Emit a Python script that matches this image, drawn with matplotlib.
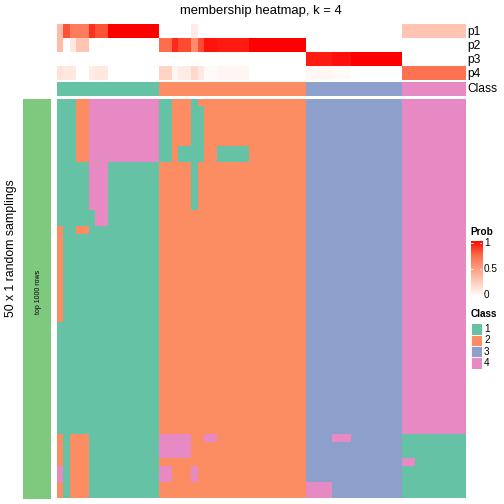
import numpy as np
import matplotlib.pyplot as plt
from matplotlib.colors import ListedColormap, LinearSegmentedColormap

plt.rcParams['font.family'] = ['Liberation Sans', 'DejaVu Sans']

W = H = 504

class_colors = ['#66C2A5', '#FC8D62', '#8DA0CB', '#E78AC3']
prob_colors = ['#FFFFFF', '#FFCFBE', '#FF9E81', '#FF6846', '#FF0000']
bar_color = '#7FC97F'

# column annotation (64 samples)
col_class = "1" * 16 + "2" * 23 + "3" * 15 + "4" * 10

p1 = [0.35, 0.80, 0.65, 0.65, 0.65, 0.88, 0.80, 0.80, 1, 1, 1, 1, 1, 1, 1, 1,
      0, 0, 0, 0, 0, 0.10, 0, 0, 0, 0, 0, 0, 0, 0, 0, 0, 0, 0, 0, 0, 0, 0, 0,
      0, 0, 0, 0, 0, 0, 0, 0, 0, 0, 0, 0, 0, 0, 0,
      0.30, 0.30, 0.30, 0.30, 0.30, 0.30, 0.30, 0.30, 0.30, 0.30]
p2 = [0.35, 0, 0.12, 0.30, 0.30, 0, 0, 0, 0, 0, 0, 0, 0, 0, 0, 0,
      0.72, 0.72, 0.90, 0.82, 0.82, 0.58, 0.82, 0.95, 0.95, 0.93, 0.93, 0.93, 0.93, 0.93,
      1, 1, 1, 1, 1, 1, 1, 1, 1,
      0, 0, 0, 0, 0, 0, 0, 0, 0, 0, 0, 0, 0, 0, 0,
      0, 0, 0, 0, 0, 0, 0, 0, 0, 0]
p3 = [0, 0, 0, 0, 0, 0, 0, 0, 0, 0, 0, 0, 0, 0, 0, 0,
      0, 0, 0, 0, 0, 0, 0, 0, 0, 0, 0, 0, 0, 0, 0, 0, 0, 0, 0, 0, 0, 0, 0,
      0.93, 0.93, 0.93, 0.93, 0.96, 0.96, 0.96, 1, 1, 1, 1, 1, 1, 1, 1,
      0, 0, 0, 0, 0, 0, 0, 0, 0, 0]
p4 = [0.15, 0.12, 0.12, 0, 0, 0.10, 0.12, 0.12, 0, 0, 0, 0, 0, 0, 0, 0,
      0.22, 0.22, 0.05, 0.10, 0.10, 0.20, 0.12, 0.03, 0.03, 0.05, 0.05, 0.05, 0.05, 0.05,
      0, 0, 0, 0, 0, 0, 0, 0, 0,
      0.04, 0.04, 0.04, 0.04, 0.02, 0.02, 0.02, 0, 0, 0, 0, 0, 0, 0, 0,
      0.70, 0.70, 0.70, 0.70, 0.70, 0.70, 0.70, 0.70, 0.70, 0.70]
p_labels = ['p1', 'p2', 'p3', 'p4']

# class of each sample in each of the 50 samplings: (pattern, number of rows)
c1_base = "1" * 16
c2_base = "2" * 23
c3_base = "3" * 15
c4_base = "4" * 10
row_blocks = [
    ("11122" + "4" * 11, "11222" + "1" + "2" * 17, c3_base, c4_base, 1),
    ("11122" + "4" * 11, "11222" + "11" + "2" * 16, c3_base, c4_base, 5),
    ("11122" + "4" * 11, "11" + "2" + "1111" + "22" + "11111" + "2" * 9, c3_base, c4_base, 2),
    ("11111" + "444" + "1" * 8, "22222" + "1" + "2" * 17, c3_base, c4_base, 6),
    ("111111" + "44" + "1" * 8, c2_base, c3_base, c4_base, 2),
    ("2" + "11" + "22" + "1" * 11, c2_base, c3_base, c4_base, 1),
    ("2" + "1" * 15, c2_base, c3_base, c4_base, 11),
    (c1_base, c2_base, c3_base, c4_base, 14),
    ("21222" + "1" * 11, "44444" + "22" + "44" + "2" * 14, "3333" + "444" + "3" * 8, "1" * 10, 1),
    ("21222" + "1" * 11, "44444" + "2" * 18, c3_base, "1" * 10, 2),
    ("21222" + "1" * 11, c2_base, c3_base, "44" + "1" * 8, 1),
    ("41222" + "1" * 11, "44222" + "4" + "2" * 17, c3_base, "1" * 10, 2),
    ("21222" + "1" * 11, c2_base, "4444" + "3" * 11, "1" * 10, 2),
]

rows = []
for a, b, c, d, n in row_blocks:
    s = a + b + c + d
    assert len(s) == 64, s
    for k in range(n):
        rows.append([int(ch) for ch in s])
mat = np.array(rows)

class_cmap = ListedColormap(class_colors)
prob_cmap = LinearSegmentedColormap.from_list('prob', prob_colors)

fig = plt.figure(figsize=(7, 7), dpi=72)


def px_axes(x0, y0, x1, y1):
    ax = fig.add_axes([x0 / W, 1 - y1 / H, (x1 - x0) / W, (y1 - y0) / H])
    ax.set_axis_off()
    return ax


x_left, x_right = 56.7, 465.0

# probability annotation
ax_p = px_axes(x_left, 24, x_right, 80)
ax_p.imshow(np.array([p1, p2, p3, p4]), cmap=prob_cmap, vmin=0, vmax=1,
            aspect='auto', interpolation='nearest')
for i, lab in enumerate(p_labels):
    fig.text(467 / W, 1 - (32 + 14 * i) / H, lab, fontsize=12, va='center', ha='left')

# class annotation
ax_c = px_axes(x_left, 82, x_right, 96)
ax_c.imshow(np.array([[int(ch) for ch in col_class]]), cmap=class_cmap, vmin=0.5, vmax=4.5,
            aspect='auto', interpolation='nearest')
fig.text(467 / W, 1 - 89 / H, 'Class', fontsize=12, va='center', ha='left')

# main heatmap
ax_m = px_axes(x_left, 98.5, x_right, 498.5)
ax_m.imshow(mat, cmap=class_cmap, vmin=0.5, vmax=4.5, aspect='auto', interpolation='nearest')

# left split bar
ax_b = px_axes(22.7, 98.5, 50.7, 498.5)
ax_b.add_patch(plt.Rectangle((0, 0), 1, 1, color=bar_color, transform=ax_b.transAxes))
ax_b.text(0.55, 0.516, 'top 1000 rows', rotation=90, fontsize=7, ha='center', va='center',
          transform=ax_b.transAxes)

fig.text(11.5 / W, 1 - 248 / H, '50 x 1 random samplings', rotation=90, fontsize=12.2,
         ha='center', va='center')
fig.text(261 / W, 1 - 11 / H, 'membership heatmap, k = 4', fontsize=13, ha='center', va='center')

# Prob legend
fig.text(470.5 / W, 1 - 232 / H, 'Prob', fontsize=10, fontweight='bold', ha='left', va='center')
ax_cb = px_axes(470.5, 240.5, 482, 297.5)
grad = np.linspace(1, 0, 200).reshape(-1, 1)
ax_cb.imshow(grad, cmap=prob_cmap, vmin=0, vmax=1, aspect='auto', extent=[0, 1, 0, 1])
ax_cb.set_xlim(0, 1)
ax_cb.set_ylim(0, 1)
for v, lab in [(1, '1'), (0.5, '0.5'), (0, '0')]:
    yv = 0.05 + 0.9 * v
    ax_cb.plot([0, 0.2], [yv, yv], color='white', lw=0.8)
    ax_cb.plot([0.8, 1], [yv, yv], color='white', lw=0.8)
    fig.text(484 / W, 1 - (297.5 - 2.85 - 51.3 * v) / H, lab, fontsize=10, ha='left', va='center')

# Class legend
fig.text(470.5 / W, 1 - 314 / H, 'Class', fontsize=10, fontweight='bold', ha='left', va='center')
for i, col in enumerate(class_colors):
    y0 = 323.5 + 11.3 * i
    ax_l = px_axes(470.5, y0, 481.8, y0 + 11.3)
    ax_l.add_patch(plt.Rectangle((0, 0), 1, 1, facecolor=col, edgecolor='white', lw=0.8,
                                 transform=ax_l.transAxes))
    fig.text(484 / W, 1 - (y0 + 5.65) / H, str(i + 1), fontsize=10, ha='left', va='center')

fig.savefig('out.png', dpi=72)
